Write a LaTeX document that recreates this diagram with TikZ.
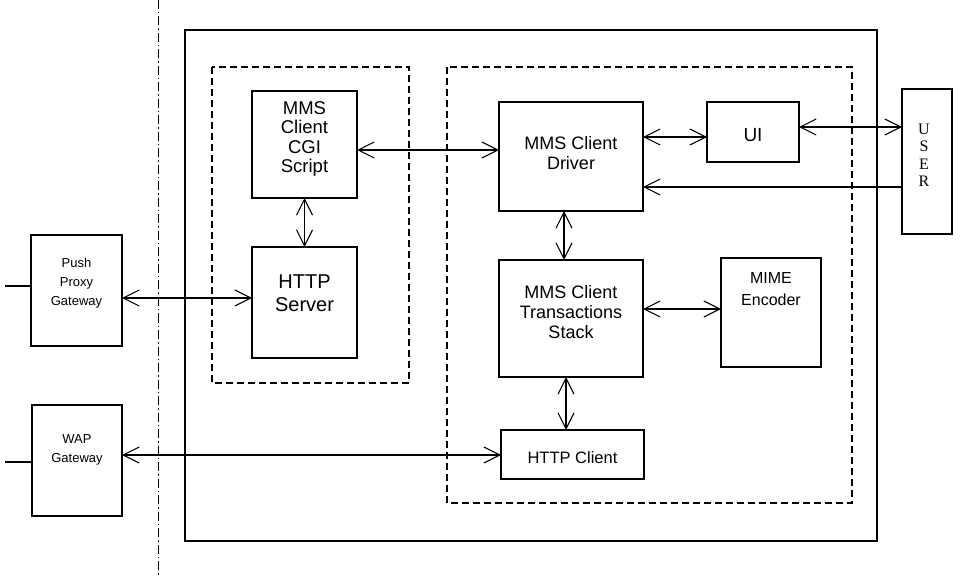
\documentclass[tikz,border=0pt]{standalone}
\usepackage{fontspec}
\setmainfont{Liberation Sans}
\newfontfamily\userfont{Liberation Serif}
\usepackage{tikz}
\usetikzlibrary{arrows.meta}

\begin{document}
\begin{tikzpicture}[x=1pt, y=-1pt,
	>={Straight Barb[length=16pt, width=16pt]},
	blk/.style={draw, line width=1.2pt, inner sep=0pt, outer sep=0pt},
	txt/.style={align=center, inner sep=0pt, font=\fontsize{18}{20}\selectfont},
	gw/.style={align=center, inner sep=0pt, font=\fontsize{13}{19}\selectfont},
	link/.style={line width=1.1pt},
	group/.style={line width=1.2pt, dash pattern=on 7pt off 4pt}]
	\useasboundingbox (0,0) rectangle (961,577);

	% separator and client frame
	\draw[line width=1pt, dash pattern=on 9pt off 3pt on 1.5pt off 3pt] (158,0) -- (158,577);
	\draw[line width=2pt] (185,30) rectangle (877,541);
	\draw[group] (212,67) rectangle (409,383);
	\draw[group] (447,67) rectangle (852,503);

	% gateways outside
	\node[blk, minimum width=91pt, minimum height=111pt,
		label={[gw, yshift=7pt]center:Push\\Proxy\\Gateway}] (push) at (76.5,290.5) {};
	\node[blk, minimum width=90pt, minimum height=111pt,
		label={[gw, yshift=10.5pt]center:WAP\\Gateway}] (wap) at (77,460.5) {};

	% server side
	\node[blk, minimum width=105pt, minimum height=107pt,
		label={[txt, font=\fontsize{18.5}{19.5}\selectfont, yshift=5.5pt]center:MMS\\Client\\CGI\\Script}] (cgi) at (304.5,144.5) {};
	\node[blk, minimum width=105pt, minimum height=111pt,
		label={[txt, font=\fontsize{20}{23}\selectfont, yshift=9pt]center:HTTP\\Server}] (server) at (304.5,302.5) {};

	% client side
	\node[blk, minimum width=144pt, minimum height=109pt,
		label={[txt, yshift=3.5pt]center:MMS Client\\Driver}] (driver) at (571,156.5) {};
	\node[blk, minimum width=92pt, minimum height=60pt,
		label={[txt, font=\fontsize{19}{20}\selectfont, yshift=-3pt]center:UI}] (ui) at (753,132) {};
	\node[blk, minimum width=144pt, minimum height=117pt,
		label={[txt, yshift=6.5pt]center:MMS Client\\Transactions\\Stack}] (stack) at (571,318.5) {};
	\node[blk, minimum width=100pt, minimum height=109pt,
		label={[txt, font=\fontsize{16}{22}\selectfont, yshift=23pt]center:MIME\\Encoder}] (mime) at (771,312.5) {};
	\node[blk, minimum width=143pt, minimum height=49pt,
		label={[txt, font=\fontsize{16.5}{20}\selectfont, yshift=-3.5pt]center:HTTP Client}] (hclient) at (572.5,454.5) {};

	\node[blk, minimum width=50pt, minimum height=145pt,
		label={[align=center, inner sep=0pt, font=\userfont\fontsize{16}{17.5}\selectfont, xshift=-3pt, yshift=6pt]center:U\\S\\E\\R}] (user) at (927,161.5) {};

	% stubs to the outside network
	\draw[link] ([yshift=4.5pt]push.west) -- +(-26,0);
	\draw[link] ([yshift=-1.5pt]wap.west) -- +(-27,0);

	% connections
	\draw[link, <->] ([yshift=-7.5pt]push.east) -- ([yshift=-7.5pt]push.east -| server.west);
	\draw[link, <->] ([yshift=5.5pt]wap.east) -- ([yshift=5.5pt]wap.east -| hclient.west);
	\draw[link, <->] ([yshift=-5.5pt]cgi.east) -- ([yshift=-5.5pt]cgi.east -| driver.west);
	\draw[link, <->] (cgi.south) -- (server.north);
	\draw[link, <->] ([yshift=-5pt]ui.west -| driver.east) -- ([yshift=-5pt]ui.west);
	\draw[link, <->] ([yshift=5pt]ui.east) -- ([yshift=5pt]ui.east -| user.west);
	\draw[link, ->] ([yshift=-25.5pt]user.west) -- ([yshift=-25.5pt]user.west -| driver.east);
	\draw[link, <->] ([xshift=-7pt]driver.south) -- ([xshift=-7pt]driver.south |- stack.north);
	\draw[link, <->] ([yshift=9.5pt]stack.east) -- ([yshift=9.5pt]stack.east -| mime.west);
	\draw[link, <->] ([xshift=-5pt]stack.south) -- ([xshift=-5pt]stack.south |- hclient.north);
\end{tikzpicture}
\end{document}
